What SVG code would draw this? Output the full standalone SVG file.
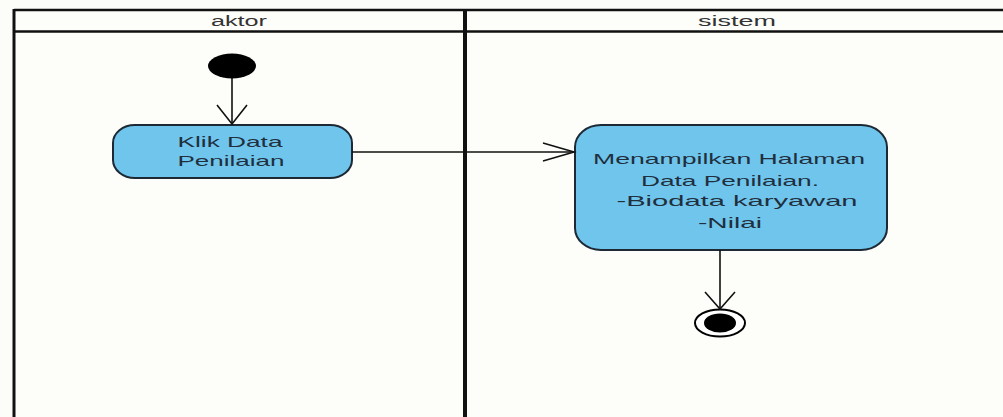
<svg xmlns="http://www.w3.org/2000/svg" width="1003" height="417" viewBox="0 0 1003 417">
<style>
.lane{stroke:#111;fill:none}
.act{fill:#70c5ec;stroke:#1d2935;stroke-width:2}
.t{font-family:"Liberation Sans",Arial,sans-serif;font-size:15px;fill:#1f2f3d;text-anchor:middle}
.h{font-family:"Liberation Sans",Arial,sans-serif;font-size:14px;fill:#333;text-anchor:middle}
.c{stroke:#111;stroke-width:1.6;fill:none}
</style>
<rect x="0" y="0" width="1003" height="417" fill="#fcfdf9"/>
<g id="lanes">
<rect x="14" y="10" width="1000" height="420" fill="#fdfdfa" stroke="none"/>
<line class="lane" x1="14" y1="10" x2="1003" y2="10" stroke-width="2.5"/>
<line class="lane" x1="14" y1="31.5" x2="1003" y2="31.5" stroke-width="2.5"/>
<line class="lane" x1="14" y1="9" x2="14" y2="417" stroke-width="3"/>
<line class="lane" x1="465" y1="9" x2="465" y2="417" stroke-width="4"/>
<text class="h" x="239" y="26" textLength="56" lengthAdjust="spacingAndGlyphs">aktor</text>
<text class="h" x="737" y="26" textLength="78" lengthAdjust="spacingAndGlyphs">sistem</text>
</g>
<g id="start">
<ellipse cx="232" cy="66" rx="24" ry="12.5" fill="#000"/>
</g>
<g id="klik">
<rect class="act" x="113" y="125" width="239" height="53" rx="22" ry="18"/>
<text class="t" x="230" y="147" textLength="105" lengthAdjust="spacingAndGlyphs">Klik Data</text>
<text class="t" x="231" y="166" textLength="107" lengthAdjust="spacingAndGlyphs">Penilaian</text>
</g>
<g id="tampil">
<rect class="act" x="575" y="125" width="312" height="125" rx="26" ry="22"/>
<text class="t" x="729" y="164" textLength="272" lengthAdjust="spacingAndGlyphs">Menampilkan Halaman</text>
<text class="t" x="730" y="186" textLength="178" lengthAdjust="spacingAndGlyphs">Data Penilaian.</text>
<text class="t" x="737" y="206" textLength="241" lengthAdjust="spacingAndGlyphs">-Biodata karyawan</text>
<text class="t" x="730" y="228" textLength="64" lengthAdjust="spacingAndGlyphs">-Nilai</text>
</g>
<g id="end">
<ellipse cx="720" cy="323" rx="25" ry="13.5" fill="#fff" stroke="#000" stroke-width="2"/>
<ellipse cx="720" cy="323" rx="16" ry="9.5" fill="#000"/>
</g>
<g id="connectors">
<line class="c" x1="232" y1="78" x2="232" y2="124"/>
<polyline class="c" points="217,105 232,124 247,105"/>
<line class="c" x1="352" y1="152" x2="574" y2="152"/>
<polyline class="c" points="543,143 574,152 543,161"/>
<line class="c" x1="720" y1="250" x2="720" y2="309"/>
<polyline class="c" points="705,292 720,309 735,292"/>
</g>
</svg>
